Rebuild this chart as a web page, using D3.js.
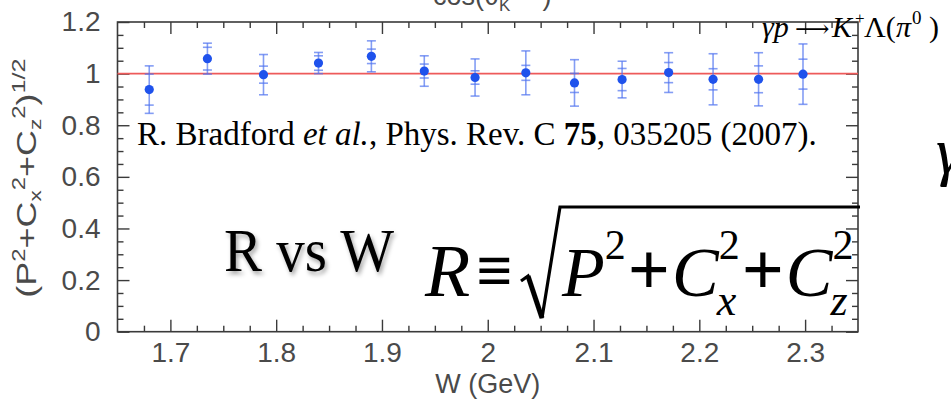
<!DOCTYPE html>
<html>
<head>
<meta charset="utf-8">
<script src="https://cdn.jsdelivr.net/npm/d3@7"></script>
<style>
  html, body { margin: 0; padding: 0; background: #fff; }
  svg { display: block; }
</style>
</head>
<body>
<svg id="chart" width="951" height="407"></svg>
<script>
// Beam-energy bins (W, GeV) and the measured R = sqrt(P^2 + Cx^2 + Cz^2)
const wValues = [1.680, 1.735, 1.788, 1.840, 1.890, 1.940, 1.988, 2.036, 2.082, 2.127, 2.171, 2.213, 2.256, 2.298];
const rValues = [0.938, 1.058, 0.996, 1.041, 1.067, 1.010, 0.985, 1.003, 0.964, 0.977, 1.004, 0.978, 0.978, 0.998];
// statistical (inner) and total (outer) uncertainties
const statErr = [0.060, 0.044, 0.033, 0.028, 0.028, 0.027, 0.026, 0.029, 0.037, 0.043, 0.039, 0.041, 0.052, 0.058];
const totErr  = [0.092, 0.060, 0.078, 0.041, 0.060, 0.059, 0.072, 0.085, 0.090, 0.071, 0.077, 0.099, 0.103, 0.117];

const referenceLevel = 1;

const xTickValues = [1.7, 1.8, 1.9, 2.0, 2.1, 2.2, 2.3];
const xTickLabels = ["1.7", "1.8", "1.9", "2", "2.1", "2.2", "2.3"];
const yTickValues = [0, 0.2, 0.4, 0.6, 0.8, 1.0, 1.2];
const yTickLabels = ["0", "0.2", "0.4", "0.6", "0.8", "1", "1.2"];

const svg = d3.select("#chart");
const plotLeft = 117.5, plotRight = 858, plotTop = 22, plotBottom = 331.7;

const x = d3.scaleLinear().domain([1.65, 2.35]).range([plotLeft, plotRight]);
const y = d3.scaleLinear().domain([0, 1.2]).range([plotBottom, plotTop]);

const xMinor = d3.range(67, 94).filter(i => i % 4 !== 0).map(i => i * 0.025);
const yMinor = d3.range(1, 24).filter(i => i % 4 !== 0).map(i => i * 0.05);

const frameColor = "#3a3a3a";
const labelFont = "'Liberation Sans', Arial, Helvetica, sans-serif";
const serif = "'Liberation Serif', 'Times New Roman', Times, serif";

function styleAxis(g) {
  g.select(".domain").remove();
  g.selectAll(".tick line").attr("stroke", frameColor).attr("stroke-width", 1.4);
  g.selectAll(".tick text")
    .attr("fill", "#4a4a4a")
    .attr("font-family", labelFont)
    .attr("font-size", 28);
}

// major ticks with labels
svg.append("g").attr("transform", `translate(0,${plotBottom})`)
  .call(d3.axisBottom(x).tickValues(xTickValues).tickSize(-12).tickPadding(10)
    .tickFormat((d, i) => xTickLabels[i]))
  .call(styleAxis);
svg.append("g").attr("transform", `translate(${plotLeft},0)`)
  .call(d3.axisLeft(y).tickValues(yTickValues).tickSize(-12).tickPadding(17)
    .tickFormat((d, i) => yTickLabels[i]))
  .call(styleAxis);
// mirrored major ticks
svg.append("g").attr("transform", `translate(0,${plotTop})`)
  .call(d3.axisTop(x).tickValues(xTickValues).tickSize(-12).tickFormat(""))
  .call(styleAxis);
svg.append("g").attr("transform", `translate(${plotRight},0)`)
  .call(d3.axisRight(y).tickValues(yTickValues).tickSize(-12).tickFormat(""))
  .call(styleAxis);
// minor ticks on all four sides
svg.append("g").attr("transform", `translate(0,${plotBottom})`)
  .call(d3.axisBottom(x).tickValues(xMinor).tickSize(-6).tickFormat("")).call(styleAxis);
svg.append("g").attr("transform", `translate(0,${plotTop})`)
  .call(d3.axisTop(x).tickValues(xMinor).tickSize(-6).tickFormat("")).call(styleAxis);
svg.append("g").attr("transform", `translate(${plotLeft},0)`)
  .call(d3.axisLeft(y).tickValues(yMinor).tickSize(-6).tickFormat("")).call(styleAxis);
svg.append("g").attr("transform", `translate(${plotRight},0)`)
  .call(d3.axisRight(y).tickValues(yMinor).tickSize(-6).tickFormat("")).call(styleAxis);

// frame
svg.append("rect")
  .attr("x", plotLeft).attr("y", plotTop)
  .attr("width", plotRight - plotLeft).attr("height", plotBottom - plotTop)
  .attr("fill", "none").attr("stroke", frameColor).attr("stroke-width", 1.6);

// R = 1 reference line
svg.append("line")
  .attr("x1", x(1.65)).attr("x2", x(2.35))
  .attr("y1", y(referenceLevel)).attr("y2", y(referenceLevel))
  .attr("stroke", "#ee5a5a").attr("stroke-width", 1.6);

// data points with two-level error bars
const points = wValues.map((w, i) => ({ w, r: rValues[i], s: statErr[i], t: totErr[i] }));
const errColor = "rgba(80,115,240,0.7)";
const cap = 4.5;
const pg = svg.append("g");
points.forEach(p => {
  const g = pg.append("g");
  const cx = x(p.w);
  g.append("line").attr("x1", cx).attr("x2", cx)
    .attr("y1", y(p.r + p.t)).attr("y2", y(p.r - p.t))
    .attr("stroke", errColor).attr("stroke-width", 1.6);
  [p.r + p.t, p.r - p.t, p.r + p.s, p.r - p.s].forEach(v => {
    g.append("line").attr("x1", cx - cap).attr("x2", cx + cap)
      .attr("y1", y(v)).attr("y2", y(v))
      .attr("stroke", errColor).attr("stroke-width", 1.6);
  });
  g.append("circle").attr("cx", cx).attr("cy", y(p.r)).attr("r", 4.6)
    .attr("fill", "#1f52ec");
});

// axis titles
svg.append("text")
  .attr("x", (plotLeft + plotRight) / 2).attr("y", 393)
  .attr("text-anchor", "middle")
  .attr("font-family", labelFont).attr("font-size", 27).attr("fill", "#4a4a4a")
  .text("W (GeV)");

const yTitle = svg.append("text")
  .attr("transform", "translate(36,178) rotate(-90) scale(1.33,1)")
  .attr("text-anchor", "middle")
  .attr("font-family", labelFont).attr("font-size", 27).attr("fill", "#4a4a4a");
[
  ["(P", 0], ["2", -11, 18], ["+C", 11], ["x", 5, 17], ["2", -16, 18], ["+C", 11],
  ["z", 5, 17], ["2", -16, 18], [")", 11], ["1/2", -11, 19]
].forEach(([t, dy, fs]) => {
  const ts = yTitle.append("tspan").attr("dy", dy).text(t);
  if (fs) ts.attr("font-size", fs);
});

// partially visible heading above the frame
const head = svg.append("text").attr("x", 433).attr("y", 5)
  .attr("font-family", labelFont).attr("font-size", 27).attr("fill", "#4a4a4a");
head.append("tspan").text("cos(θ");
head.append("tspan").attr("font-size", 17).attr("dy", 6).text("K");
head.append("tspan").attr("font-size", 17).attr("dy", -16).text("c.m.");
head.append("tspan").attr("dy", 10).text(")");

// citation
const cite = svg.append("text").attr("x", 137).attr("y", 145)
  .attr("font-family", serif).attr("font-size", 33).attr("fill", "#000");
cite.append("tspan").text("R. Bradford ");
cite.append("tspan").attr("font-style", "italic").text("et al.");
cite.append("tspan").text(", Phys. Rev. C ");
cite.append("tspan").attr("font-weight", "bold").text("75");
cite.append("tspan").text(", 035205 (2007).");

// "R vs W" with soft shadow
const defs = svg.append("defs");
const f = defs.append("filter").attr("id", "soft").attr("x", "-10%").attr("y", "-20%")
  .attr("width", "130%").attr("height", "160%");
f.append("feDropShadow").attr("dx", 2).attr("dy", 3).attr("stdDeviation", 2)
  .attr("flood-color", "#000").attr("flood-opacity", 0.35);
svg.append("text").attr("x", 224).attr("y", 271)
  .attr("font-family", serif).attr("font-size", 57).attr("fill", "#000")
  .attr("filter", "url(#soft)")
  .attr("transform", "translate(224,271) scale(1,1.08) translate(-224,-271)")
  .text("R vs W");

// definition R ≡ sqrt(P^2 + Cx^2 + Cz^2)
const fg = svg.append("g");
const base = 296;
function piece(xp, t, size, italic, dy, weight) {
  const el = fg.append("text").attr("x", xp).attr("y", base + dy)
    .attr("font-family", serif).attr("font-size", size)
    .attr("font-weight", weight || "normal")
    .attr("font-style", italic ? "italic" : "normal").attr("fill", "#000").text(t);
  return el.node().getComputedTextLength();
}
let cx0 = 425;
cx0 += piece(cx0, "R", 74, true, 0) + 6;
piece(cx0, "≡", 64, false, -4, "bold");
// radical sign
fg.append("path")
  .attr("d", "M521,281 L528,276 L542,318 L560,207 L860,207")
  .attr("fill", "none").attr("stroke", "#000").attr("stroke-width", 3.2)
  .attr("stroke-linejoin", "miter");
fg.append("path").attr("d", "M528,276 L542,318").attr("stroke", "#000").attr("stroke-width", 5);
const plusPad = 2;
let px = 562;
px += piece(px, "P", 70, true, 0);
px += piece(px, "2", 42, false, -37) + plusPad;
px += piece(px, "+", 74, false, -2, "bold") + plusPad;
px += piece(px, "C", 70, true, 0);
px += Math.max(piece(px - 2, "x", 44, true, 19), piece(px, "2", 42, false, -37)) + plusPad;
px += piece(px, "+", 74, false, -2, "bold") + plusPad;
px += piece(px, "C", 70, true, 0);
piece(px - 2, "z", 44, true, 19);
piece(px, "2", 42, false, -37);

// reaction label at top right
const rx = svg.append("text").attr("y", 37)
  .attr("font-family", serif).attr("font-size", 30).attr("fill", "#000");
rx.append("tspan").attr("x", 762).attr("font-style", "italic").text("γp");
rx.append("tspan").attr("x", 795).attr("font-family", "'DejaVu Serif', serif").attr("font-size", 24).text("⟶");
rx.append("tspan").attr("x", 832).attr("font-style", "italic").text("K");
rx.append("tspan").attr("x", 855).attr("font-size", 17).attr("dy", -13).text("+");
rx.append("tspan").attr("x", 864).attr("dy", 13).text("Λ(");
rx.append("tspan").attr("x", 896).attr("font-style", "italic").text("π");
rx.append("tspan").attr("x", 912).attr("font-size", 19).attr("dy", -13).text("0");
rx.append("tspan").attr("x", 929).attr("dy", 13).text(")");

// start of the neighbouring expression at the right edge
svg.append("text").attr("x", 936).attr("y", 173)
  .attr("font-family", serif).attr("font-size", 66).attr("font-style", "italic")
  .attr("fill", "#000").text("γ");
</script>
</body>
</html>
